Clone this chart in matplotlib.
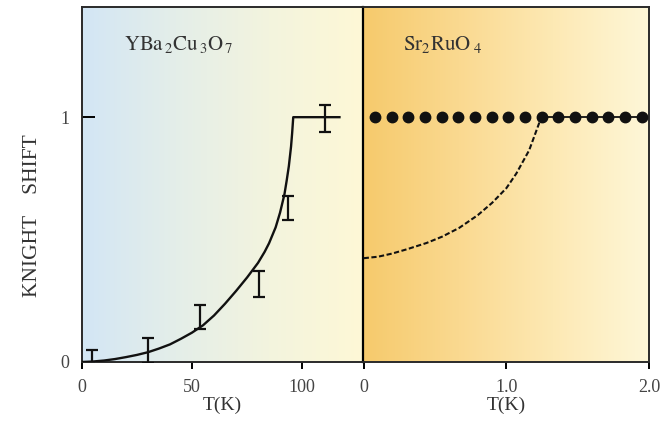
import matplotlib
matplotlib.use("Agg")
import matplotlib.pyplot as plt
from matplotlib.colors import LinearSegmentedColormap
import numpy as np

plt.rcParams['font.family'] = ['Liberation Serif', 'DejaVu Serif']
plt.rcParams['mathtext.fontset'] = 'stix'

# YBa2Cu3O7 data points with error bars
yb_T = [4.4, 30, 53.6, 80.5, 93.6, 110.5]
yb_K = [0.0, 0.047, 0.184, 0.318, 0.63, 0.994]
yb_err = [0.05, 0.051, 0.05, 0.052, 0.05, 0.055]

# curve
yb_curve_T = [0, 5, 10, 15, 20, 25, 30, 35, 40, 45, 50, 55, 60, 65, 70, 75, 80,
              83, 85, 88, 90, 92, 93, 94, 95, 95.5, 96, 117]
yb_curve_K = [0, 0.002, 0.006, 0.012, 0.02, 0.029, 0.04, 0.055, 0.072, 0.095,
              0.12, 0.15, 0.19, 0.238, 0.29, 0.345, 0.405, 0.45, 0.485, 0.55,
              0.61, 0.685, 0.74, 0.8, 0.88, 0.935, 1.0, 1.0]

# Sr2RuO4 dots
sr_T = [0.08, 0.2, 0.31, 0.43, 0.55, 0.66, 0.78, 0.9, 1.01, 1.13, 1.25,
        1.36, 1.48, 1.6, 1.71, 1.83, 1.95]
sr_K = [1.0] * len(sr_T)
sr_line_T = [1.25, 1.95]
sr_line_K = [1.0, 1.0]

# dashed curve
sr_dash_T = [0, 0.1, 0.2, 0.3, 0.44, 0.55, 0.67, 0.8, 0.9, 1.0, 1.07, 1.16, 1.22, 1.245]
sr_dash_K = [0.424, 0.43, 0.443, 0.46, 0.486, 0.512, 0.548, 0.6, 0.65, 0.71, 0.77,
             0.865, 0.96, 1.0]

fig = plt.figure(figsize=(6.69, 4.22), dpi=100)
ax1 = fig.add_axes([82 / 669, 1 - 362 / 422, 281 / 669, 355 / 422])
ax2 = fig.add_axes([363 / 669, 1 - 362 / 422, 286 / 669, 355 / 422])

grad = np.linspace(0, 1, 256).reshape(1, -1)
cm1 = LinearSegmentedColormap.from_list('c1', ['#d3e6f5', '#e4eee9', '#f3f4de', '#fef8d6'])
cm2 = LinearSegmentedColormap.from_list('c2', ['#f6ca6c', '#fad990', '#fde9b4', '#fef7d8'])
for ax, cm in [(ax1, cm1), (ax2, cm2)]:
    ax.imshow(grad, cmap=cm, aspect='auto', extent=[0, 1, 0, 1],
              transform=ax.transAxes, zorder=0)

# left panel
ax1.plot(yb_curve_T, yb_curve_K, color='#111111', lw=1.7, zorder=3)
ax1.errorbar(yb_T, yb_K, yerr=yb_err, fmt='none', ecolor='#111111',
             elinewidth=1.6, capsize=4.5, capthick=1.6, zorder=4)
ax1.set_xlim(0, 127.7)
ax1.set_ylim(0, 1.45)
ax1.set_xticks([0, 50, 100])
ax1.set_xticklabels(['0', '50', '100'])
ax1.set_yticks([0, 1])
ax1.set_yticklabels(['0', '1'])
ax1.text(0.15, 0.88, r'$\mathrm{YBa_{\,2}Cu_{\,3}O_{\,7}}$', transform=ax1.transAxes,
         fontsize=15, color='#333333')
ax1.set_xlabel('T(K)', fontsize=14, color='#333333', labelpad=1)

fig.text(33 / 669, 1 - 216 / 422, 'KNIGHT    SHIFT', rotation=90, ha='center',
         va='center', fontsize=15.5, color='#333333')

# right panel
ax2.plot(sr_line_T, sr_line_K, color='#111111', lw=1.3, zorder=3)
ax2.plot(sr_dash_T, sr_dash_K, color='#111111', lw=1.5, ls=(0, (2.5, 1.2)), zorder=3)
ax2.plot(sr_T, sr_K, 'o', color='#111111', ms=7.5, zorder=4)
ax2.set_xlim(-0.005, 2.0)
ax2.set_ylim(0, 1.45)
ax2.set_xticks([0, 1.0, 2.0])
ax2.set_xticklabels(['0', '1.0', '2.0'])
ax2.set_yticks([])
ax2.text(0.14, 0.88, r'$\mathrm{Sr_{2}RuO_{\ 4}}$', transform=ax2.transAxes,
         fontsize=15, color='#333333')
ax2.set_xlabel('T(K)', fontsize=14, color='#333333', labelpad=1)

for ax in (ax1, ax2):
    for s in ax.spines.values():
        s.set_color('#2a2a2a')
        s.set_linewidth(1.4)
    ax.tick_params(axis='x', direction='out', length=5, width=1.4, pad=7,
                   labelsize=13, labelcolor='#444444')
ax1.tick_params(axis='y', direction='in', length=9, width=1.4, pad=9,
                labelsize=13, labelcolor='#444444')
ax1.spines['right'].set_visible(False)
ax2.spines['left'].set_color('#000000')
ax2.spines['left'].set_linewidth(1.6)

fig.savefig('out.png', dpi=100)
